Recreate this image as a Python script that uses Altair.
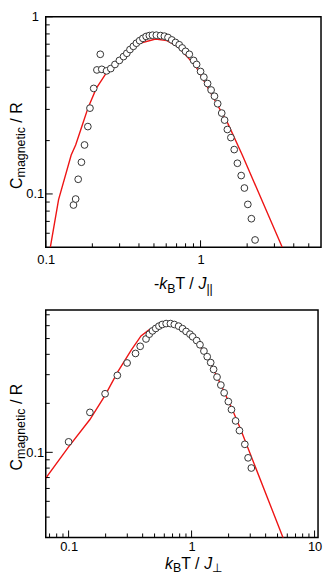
import altair as alt
import pandas as pd

# ---------------- data ----------------
top_circ_x = [0.151, 0.156, 0.162, 0.170, 0.178, 0.187, 0.193, 0.204, 0.214, 0.225, 0.230, 0.247,
              0.263, 0.280, 0.299, 0.318, 0.334, 0.350, 0.368, 0.385, 0.404, 0.424, 0.445, 0.467,
              0.489, 0.518, 0.552, 0.584, 0.616, 0.652, 0.689, 0.728, 0.761, 0.800, 0.846, 0.902,
              0.943, 1.00, 1.05, 1.11, 1.17, 1.23, 1.29, 1.37, 1.43, 1.49, 1.57, 1.65, 1.73, 1.83,
              1.92, 2.02, 2.13, 2.25]
top_circ_y = [0.0866, 0.0936, 0.121, 0.151, 0.189, 0.240, 0.305, 0.394, 0.501, 0.614, 0.505, 0.495,
              0.510, 0.538, 0.567, 0.596, 0.622, 0.653, 0.681, 0.709, 0.733, 0.755, 0.774, 0.783,
              0.787, 0.787, 0.783, 0.777, 0.764, 0.740, 0.716, 0.695, 0.667, 0.638, 0.614, 0.567,
              0.538, 0.491, 0.456, 0.420, 0.386, 0.356, 0.323, 0.286, 0.261, 0.231, 0.208, 0.178,
              0.149, 0.127, 0.108, 0.0873, 0.0725, 0.055]
top_line_x = [0.107, 0.121, 0.146, 0.156, 0.171, 0.188, 0.212, 0.251, 0.296, 0.394, 0.512, 0.606,
              0.718, 0.93, 1.18, 1.5, 1.86, 3.37]
top_line_y = [0.05, 0.0929, 0.166, 0.189, 0.240, 0.308, 0.394, 0.495, 0.560, 0.704, 0.749, 0.733,
              0.675, 0.527, 0.363, 0.25, 0.166, 0.05]

bot_circ_x = [0.1, 0.149, 0.198, 0.249, 0.299, 0.35, 0.382, 0.426, 0.453, 0.481, 0.511, 0.543,
              0.577, 0.621, 0.673, 0.724, 0.784, 0.844, 0.902, 0.97, 1.02, 1.10, 1.17, 1.26, 1.34,
              1.43, 1.51, 1.61, 1.73, 1.84, 1.99, 2.11, 2.28, 2.45, 2.71, 2.88, 3.06]
bot_circ_y = [0.116, 0.176, 0.229, 0.297, 0.354, 0.405, 0.448, 0.497, 0.532, 0.557, 0.577, 0.596,
              0.61, 0.618, 0.618, 0.61, 0.596, 0.575, 0.553, 0.532, 0.513, 0.486, 0.458, 0.419,
              0.387, 0.356, 0.323, 0.29, 0.259, 0.232, 0.205, 0.183, 0.156, 0.136, 0.112, 0.0925,
              0.0801]
bot_line_x = [0.0648, 0.1, 0.149, 0.198, 0.253, 0.323, 0.388, 0.45, 0.55, 0.65, 0.8, 1.0, 1.3,
              1.6, 2.12, 2.5, 5.6]
bot_line_y = [0.069, 0.108, 0.159, 0.224, 0.315, 0.424, 0.519, 0.565, 0.607, 0.615, 0.59, 0.52,
              0.405, 0.295, 0.187, 0.139, 0.0293]

# axis domains and ticks
top_x_domain = [0.1, 6]
top_y_domain = [0.05, 1]
bot_x_domain = [0.0652, 10.67]
bot_y_domain = [0.03, 0.75]

top_x_major = [0.1, 1]
top_x_minor = [0.2, 0.3, 0.4, 0.5, 0.6, 0.7, 0.8, 0.9, 2, 3, 4, 5]
top_y_major = [0.1, 1]
top_y_minor = [0.06, 0.07, 0.08, 0.09, 0.2, 0.3, 0.4, 0.5, 0.6, 0.7, 0.8, 0.9]
bot_x_major = [0.1, 1, 10]
bot_x_minor = [0.07, 0.08, 0.09, 0.2, 0.3, 0.4, 0.5, 0.6, 0.7, 0.8, 0.9, 2, 3, 4, 5, 6, 7, 8, 9]
bot_y_major = [0.1]
bot_y_minor = [0.04, 0.05, 0.06, 0.07, 0.08, 0.09, 0.2, 0.3, 0.4, 0.5, 0.6, 0.7]

# title pieces: (text, is_subscript, italic)
top_xtitle = [("-", False, False), ("k", False, True), ("B", True, False), ("T / ", False, False),
              ("J", False, True), ("||", True, False)]
bot_xtitle = [("k", False, True), ("B", True, False), ("T / ", False, False),
              ("J", False, True), ("\u22a5", True, False)]
ytitle = [("C", False, False), ("magnetic", True, False), (" / R", False, False)]

# ---------------- styling ----------------
FONT = "Liberation Sans"
MAIN_FS = 16
SUB_FS = 12.5
SUB_SHIFT = 3.5
LABEL_FS = 13
RED = "#ee1515"

ADV = {'-': 333, 'k': 500, 'B': 667, 'T': 611, ' ': 278, '/': 278, 'J': 500, '|': 260,
       'C': 722, 'm': 833, 'a': 556, 'g': 556, 'n': 556, 'e': 556, 't': 278, 'i': 222,
       'c': 500, 'R': 722, '\u22a5': 800}


def adv(s, fs):
    return sum(ADV.get(ch, 556) for ch in s) * fs / 1000.0


def title_layers(segs, center, base, vertical=False):
    total = sum(adv(t, SUB_FS if sub else MAIN_FS) for t, sub, _ in segs)
    pos = 0.0
    layers = []
    for text, sub, ital in segs:
        fs = SUB_FS if sub else MAIN_FS
        lead = len(text) - len(text.lstrip(' '))
        start = pos + adv(' ' * lead, fs)
        t = text.strip()
        shift = SUB_SHIFT if sub else 0
        if vertical:
            x = base + shift
            y = center + total / 2 - start
            angle = 270
        else:
            x = center - total / 2 + start
            y = base + shift
            angle = 0
        df = pd.DataFrame({'t': [t]})
        layers.append(
            alt.Chart(df).mark_text(align='left', baseline='alphabetic', font=FONT, fontSize=fs,
                                    fontStyle='italic' if ital else 'normal', angle=angle,
                                    color='black')
            .encode(text='t:N', x=alt.value(x), y=alt.value(y))
        )
        pos += adv(text, fs)
    return layers


def panel(cx, cy, lx, ly, xdom, ydom, xmaj, xmin, ymaj, ymin, W, H, xlabpad,
          xt_segs, xt_center, xt_base, yt_base, yt_center):
    xs = alt.Scale(type='log', domain=xdom, nice=False)
    ys = alt.Scale(type='log', domain=ydom, nice=False)
    xaxis = alt.Axis(values=xmaj, format='~g', ticks=False, domain=False, grid=False,
                     labelFont=FONT, labelFontSize=LABEL_FS, labelColor='black',
                     labelPadding=xlabpad, title=None, labelFlush=False, labelOverlap=False)
    yaxis = alt.Axis(values=ymaj, format='~g', ticks=False, domain=False, grid=False,
                     labelFont=FONT, labelFontSize=LABEL_FS, labelColor='black',
                     labelAlign='center', labelPadding=11, title=None, labelFlush=False,
                     labelOverlap=False)
    X = lambda: alt.X('x:Q', scale=xs, axis=xaxis)
    Y = lambda: alt.Y('y:Q', scale=ys, axis=yaxis)

    line = alt.Chart(pd.DataFrame({'x': lx, 'y': ly})).mark_line(
        color=RED, strokeWidth=1.4, clip=True
    ).encode(x=X(), y=Y())
    pts = alt.Chart(pd.DataFrame({'x': cx, 'y': cy})).mark_point(
        shape='circle', filled=True, fill='white', stroke='#333333', strokeWidth=1,
        size=46, opacity=1
    ).encode(x=X(), y=Y())

    def xticks(vals, ln):
        return alt.Chart(pd.DataFrame({'x': vals})).mark_rule(color='black', strokeWidth=1).encode(
            x=X(), y=alt.value(H), y2=alt.value(H - ln))

    def yticks(vals, ln):
        return alt.Chart(pd.DataFrame({'y': vals})).mark_rule(color='black', strokeWidth=1).encode(
            y=Y(), x=alt.value(0), x2=alt.value(ln))

    layers = [line, pts, xticks(xmaj, 7), xticks(xmin, 4), yticks(ymaj, 7), yticks(ymin, 4)]
    layers += title_layers(xt_segs, xt_center, xt_base)
    layers += title_layers(ytitle, yt_center, yt_base, vertical=True)
    return alt.layer(*layers).properties(width=W, height=H)


W1, H1 = 277, 232
W2, H2 = 274, 229

top = panel(top_circ_x, top_circ_y, top_line_x, top_line_y, top_x_domain, top_y_domain,
            top_x_major, top_x_minor, top_y_major, top_y_minor, W1, H1, 6,
            top_xtitle, W1 * 0.5, H1 + 42, -24, H1 * 0.559)
bottom = panel(bot_circ_x, bot_circ_y, bot_line_x, bot_line_y, bot_x_domain, bot_y_domain,
               bot_x_major, bot_x_minor, bot_y_major, bot_y_minor, W2, H2, 3,
               bot_xtitle, W2 * 0.543, H2 + 31.5, -24, H2 * 0.515)

chart = alt.vconcat(top, bottom, spacing=13).properties(
    padding={"left": 0, "top": 0, "right": 0, "bottom": 0}
).configure(font=FONT).configure_view(stroke='black', strokeWidth=1.5)

chart.save("out.html", embed_options={"renderer": "svg", "actions": False})
